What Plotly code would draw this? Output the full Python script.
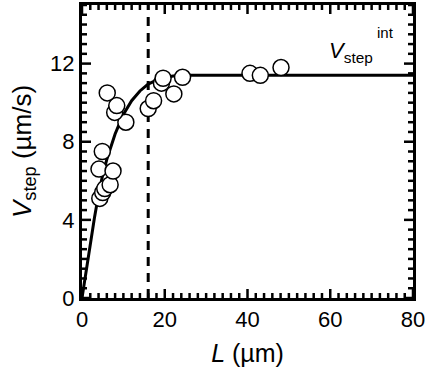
import plotly.graph_objects as go

# measured data points
L_data = [4.3, 5.0, 5.5, 6.8, 4.1, 7.5, 4.9, 10.6, 7.9, 8.4, 6.1,
          16.0, 17.3, 19.2, 19.6, 22.2, 24.3, 40.6, 43.1, 48.1]
V_data = [5.1, 5.4, 5.6, 5.8, 6.6, 6.5, 7.5, 9.0, 9.5, 9.85, 10.5,
          9.7, 10.1, 11.0, 11.25, 10.45, 11.3, 11.5, 11.4, 11.8]

# fitted curve
L_fit = [0, 1, 2, 3, 4, 5, 6, 7, 8, 9, 10, 12, 14, 16, 18, 20, 22, 25, 30, 80]
V_fit = [0, 1.4, 2.8, 4.1, 5.3, 6.3, 7.1, 7.8, 8.4, 8.9, 9.4, 10.1, 10.6,
         10.95, 11.15, 11.28, 11.36, 11.4, 11.4, 11.4]

L_cross = 16
y_range = [0, 15]
x_range = [0, 80]
x_major, x_minor = 20, 2
y_major, y_minor = 4, 0.5

font = "Liberation Sans, Arial, sans-serif"
W, H = 432, 377
ML, MR, MT, MB = 82, 19, 5, 79
PW, PH = W - ML - MR, H - MT - MB

fig = go.Figure()
fig.add_trace(go.Scatter(x=[L_cross, L_cross], y=y_range, mode="lines",
                         line=dict(color="black", width=3, dash="9px,7px"),
                         showlegend=False, hoverinfo="skip"))
fig.add_trace(go.Scatter(x=L_fit, y=V_fit, mode="lines",
                         line=dict(color="black", width=3),
                         showlegend=False))
fig.add_trace(go.Scatter(x=L_data, y=V_data, mode="markers",
                         marker=dict(size=16, color="white",
                                     line=dict(color="black", width=1.5)),
                         showlegend=False))

# inside tick marks on all four sides, built from the tick values
def tick_values(lo, hi, step):
    n = int(round((hi - lo) / step))
    return [lo + i * step for i in range(n + 1)]

x_per_px = (x_range[1] - x_range[0]) / PW
y_per_px = (y_range[1] - y_range[0]) / PH
tx, ty = [], []
for v in tick_values(x_range[0], x_range[1], x_minor):
    major = abs(v / x_major - round(v / x_major)) < 1e-9
    ln = (9 if major else 5) * y_per_px
    tx += [v, v, None, v, v, None]
    ty += [y_range[0], y_range[0] + ln, None, y_range[1], y_range[1] - ln, None]
for v in tick_values(y_range[0], y_range[1], y_minor):
    major = abs(v / y_major - round(v / y_major)) < 1e-9
    ln = (9 if major else 5) * x_per_px
    tx += [x_range[0], x_range[0] + ln, None, x_range[1], x_range[1] - ln, None]
    ty += [v, v, None, v, v, None]
fig.add_trace(go.Scatter(x=tx, y=ty, mode="lines", connectgaps=False,
                         line=dict(color="black", width=2.5),
                         showlegend=False, hoverinfo="skip", cliponaxis=False))

fig.update_xaxes(range=x_range, dtick=x_major, tick0=0, tickmode="linear",
                 showline=True, linecolor="black", linewidth=3, mirror=True,
                 ticks="", showgrid=False, zeroline=False, automargin=False,
                 tickfont=dict(family=font, size=22, color="black"),
                 title=dict(text="<i>L</i> (µm)", standoff=14,
                            font=dict(family=font, size=25, color="black")))
fig.update_yaxes(range=y_range, dtick=y_major, tick0=0, tickmode="linear",
                 showline=True, linecolor="black", linewidth=3, mirror=True,
                 ticks="", showgrid=False, zeroline=False, automargin=False,
                 tickfont=dict(family=font, size=22, color="black"),
                 title=dict(text="<i>V</i><sub>step</sub> (µm/s)", standoff=12,
                            font=dict(family=font, size=26, color="black")))

fig.add_annotation(x=0.74, y=0.84, xref="paper", yref="paper",
                   text="<i>V</i><sub>step</sub>", showarrow=False,
                   xanchor="left", yanchor="middle",
                   font=dict(family=font, size=22, color="black"))
fig.add_annotation(x=0.885, y=0.905, xref="paper", yref="paper",
                   text="int", showarrow=False, xanchor="left", yanchor="middle",
                   font=dict(family=font, size=15, color="black"))

fig.update_layout(width=W, height=H,
                  margin=dict(l=ML, r=MR, t=MT, b=MB),
                  plot_bgcolor="white", paper_bgcolor="white")

fig.write_html("out.html", config={"displayModeBar": False},
               post_script="document.body.style.margin='0';document.body.style.padding='0';")
